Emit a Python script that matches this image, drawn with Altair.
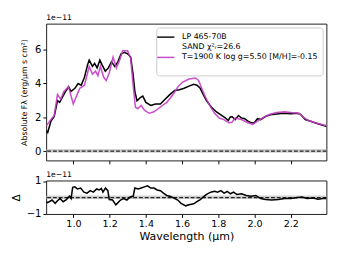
import altair as alt
import pandas as pd

# ---- data (flux in units of 1e-11) ----
lam_obs = [0.850, 0.858, 0.876, 0.894, 0.912, 0.924, 0.938, 0.952, 0.973, 0.987,
           1.008, 1.026, 1.043, 1.061, 1.078, 1.087, 1.105, 1.117, 1.131, 1.146,
           1.158, 1.176, 1.193, 1.210, 1.228, 1.246, 1.263, 1.281, 1.299, 1.316,
           1.329, 1.339, 1.351, 1.369, 1.383, 1.400, 1.427, 1.453, 1.480, 1.506,
           1.532, 1.559, 1.585, 1.611, 1.638, 1.664, 1.682, 1.700, 1.717, 1.735,
           1.761, 1.788, 1.814, 1.840, 1.855, 1.865, 1.875, 1.893, 1.911, 1.928,
           1.946, 1.963, 1.981, 1.999, 2.016, 2.034, 2.060, 2.086, 2.122, 2.157,
           2.200, 2.236, 2.254, 2.280, 2.306, 2.333, 2.359, 2.386, 2.397]
flux_obs = [1.22, 1.10, 1.77, 2.04, 2.97, 2.87, 3.15, 3.43, 3.79, 3.52,
            3.70, 3.98, 3.88, 4.35, 5.08, 5.36, 4.99, 5.17, 4.90, 5.36,
            5.08, 4.71, 4.90, 5.27, 4.99, 5.27, 5.73, 5.82, 5.73, 5.54,
            4.53, 3.52, 2.97, 3.15, 3.24, 2.87, 2.69, 2.78, 2.78, 3.06,
            3.33, 3.57, 3.61, 3.70, 3.83, 3.94, 3.88, 3.70, 3.33, 2.97,
            2.60, 2.32, 2.14, 1.95, 1.80, 2.00, 2.04, 1.86, 2.10, 1.95,
            1.91, 1.77, 1.67, 1.67, 1.91, 1.86, 2.04, 2.14, 2.19, 2.23,
            2.21, 2.23, 2.17, 1.86, 1.77, 1.67, 1.58, 1.49, 1.45]

lam_mod = [0.850, 0.876, 0.894, 0.912, 0.930, 0.947, 0.973, 0.999, 1.017, 1.035,
           1.061, 1.087, 1.105, 1.122, 1.135, 1.149, 1.167, 1.181, 1.198, 1.219,
           1.237, 1.255, 1.272, 1.299, 1.316, 1.329, 1.342, 1.355, 1.374, 1.392,
           1.418, 1.445, 1.480, 1.515, 1.550, 1.577, 1.603, 1.638, 1.673, 1.691,
           1.708, 1.726, 1.752, 1.779, 1.805, 1.831, 1.858, 1.875, 1.893, 1.928,
           1.963, 1.990, 2.016, 2.050, 2.086, 2.122, 2.166, 2.210, 2.245, 2.271,
           2.297, 2.333, 2.368, 2.397]
flux_mod = [1.49, 1.86, 2.10, 3.33, 3.06, 3.52, 3.79, 2.78, 3.24, 3.70,
            3.88, 4.99, 4.53, 4.71, 4.44, 4.99, 4.35, 4.16, 4.62, 5.54,
            4.90, 5.36, 5.91, 5.91, 5.45, 3.98, 2.60, 2.50, 2.69, 2.41,
            2.23, 2.32, 2.60, 2.87, 3.33, 3.79, 4.07, 4.25, 4.31, 4.16,
            3.70, 3.24, 2.69, 2.23, 1.95, 1.86, 1.67, 1.70, 1.95, 1.86,
            1.67, 1.58, 1.77, 1.99, 2.17, 2.28, 2.32, 2.26, 2.23, 1.99,
            1.80, 1.67, 1.58, 1.50]

lam_res = [0.850, 0.858, 0.882, 0.899, 0.912, 0.926, 0.943, 0.961, 0.978, 0.987,
           0.996, 1.008, 1.022, 1.040, 1.058, 1.075, 1.093, 1.110, 1.128, 1.142,
           1.154, 1.163, 1.177, 1.190, 1.198, 1.216, 1.234, 1.242, 1.260, 1.277,
           1.295, 1.313, 1.330, 1.339, 1.357, 1.374, 1.392, 1.409, 1.427, 1.445,
           1.462, 1.480, 1.497, 1.515, 1.532, 1.550, 1.576, 1.594, 1.620, 1.638,
           1.664, 1.682, 1.700, 1.717, 1.735, 1.758, 1.779, 1.796, 1.814, 1.832,
           1.849, 1.867, 1.884, 1.902, 1.928, 1.955, 1.981, 2.007, 2.034, 2.060,
           2.095, 2.131, 2.166, 2.201, 2.236, 2.262, 2.289, 2.324, 2.350, 2.377,
           2.397]
res = [-0.25, -0.31, -0.15, -0.35, -0.19, -0.06, -0.25, -0.12, 0.08, -0.06,
       0.62, 0.65, 0.52, 0.58, 0.33, 0.27, 0.42, 0.33, 0.52, 0.46,
       0.56, 0.33, 0.58, 0.42, -0.12, -0.15, -0.44, -0.35, -0.15, -0.06,
       -0.15, 0.04, 0.08, 0.58, 0.52, 0.58, 0.65, 0.71, 0.58, 0.58,
       0.46, 0.42, 0.27, 0.13, 0.08, 0.00, -0.15, -0.35, -0.50, -0.44,
       -0.38, -0.25, -0.12, 0.04, 0.19, 0.33, 0.38, 0.33, 0.42, 0.27,
       0.37, 0.23, 0.33, 0.19, 0.23, 0.13, 0.08, 0.13, -0.06, -0.12,
       -0.15, -0.12, -0.06, -0.06, 0.00, 0.04, -0.06, -0.02, -0.10, -0.06,
       -0.06]

unc_lam = [0.85, 1.00, 1.20, 1.40, 1.60, 1.80, 2.00, 2.20, 2.397]
unc_val = [0.02, 0.02, 0.02, 0.02, 0.02, 0.02, 0.02, 0.02, 0.02]

labels = ["LP 465-70B", "SAND χ²ᵣ=26.6", "T=1900 K log g=5.50 [M/H]=-0.15", " "]
colors = ["black", "rgba(0,0,0,0)", "#c43cc4", "rgba(0,0,0,0)"]
offset_text = ["1e−11"]

x_ticks = [1.0, 1.2, 1.4, 1.6, 1.8, 2.0, 2.2]
y_ticks_top = [0, 2, 4, 6]
y_ticks_bot = [-1, 0, 1]

# ---- tables ----
obs_df = pd.DataFrame({"lam": lam_obs, "flux": flux_obs, "series": labels[0]})
mod_df = pd.DataFrame({"lam": lam_mod, "flux": flux_mod, "series": labels[2]})
res_df = pd.DataFrame({"lam": lam_res, "res": res})
unc_df = pd.DataFrame({"lam": unc_lam, "unc": unc_val})
zero_df = pd.DataFrame({"y": [0]})
off_df = pd.DataFrame({"t": offset_text})

W = 293
xscale = alt.Scale(domain=[0.85, 2.397], nice=False, zero=False)

color_enc = alt.Color(
    "series:N",
    scale=alt.Scale(domain=labels, range=colors),
    legend=alt.Legend(
        title=None, orient="top-right", offset=4,
        symbolType="M-2.4,0H2.4", symbolSize=56, symbolStrokeWidth=1.6,
        labelFontSize=8.2, labelOffset=12, rowPadding=1.6,
        padding=5, strokeColor="#cccccc", fillColor="white",
        cornerRadius=3, labelLimit=170,
    ),
)

x_top = alt.X("lam:Q", scale=xscale,
              axis=alt.Axis(values=x_ticks, labels=False, title=None, grid=False,
                            ticks=True, tickSize=3.5, domain=False))

unc_top = alt.Chart(unc_df).mark_line(color="#b0b0b0", strokeWidth=4, opacity=0.6).encode(
    x=x_top, y=alt.Y("unc:Q"))
zero_top = alt.Chart(zero_df).mark_rule(color="#222222", strokeDash=[4, 2], strokeWidth=1.3).encode(
    y="y:Q")
obs_line = alt.Chart(obs_df).mark_line(strokeWidth=1.6, clip=True).encode(
    x=x_top,
    y=alt.Y("flux:Q", scale=alt.Scale(domain=[-0.55, 7.5], nice=False),
            axis=alt.Axis(values=y_ticks_top, grid=False, tickSize=3.5,
                          title="Absolute Fλ (erg/µm s cm²)", titleFontSize=8.2,
                          titlePadding=6, labelFontSize=10.5, domain=False)),
    color=color_enc,
)
mod_line = alt.Chart(mod_df).mark_line(strokeWidth=1.6, opacity=0.9, clip=True).encode(
    x=x_top, y=alt.Y("flux:Q"), color=color_enc)
off_top = alt.Chart(off_df).mark_text(align="left", baseline="bottom", fontSize=8,
                                      color="black").encode(
    x=alt.value(0), y=alt.value(-2), text="t:N")

top = alt.layer(obs_line, unc_top, zero_top, mod_line, off_top).properties(
    width=W, height=143)

x_bot = alt.X("lam:Q", scale=xscale,
              axis=alt.Axis(values=x_ticks, format=".1f", grid=False, tickSize=3.5,
                            title="Wavelength (µm)", titleFontSize=11.5, titlePadding=2,
                            labelFontSize=10, domain=False))
unc_bot = alt.Chart(unc_df).mark_line(color="#b0b0b0", strokeWidth=3.5, opacity=0.6).encode(
    x=x_bot, y=alt.Y("unc:Q"))
zero_bot = alt.Chart(zero_df).mark_rule(color="#222222", strokeDash=[4, 2], strokeWidth=1.3).encode(
    y="y:Q")
res_line = alt.Chart(res_df).mark_line(color="black", strokeWidth=1.6, clip=True).encode(
    x=x_bot,
    y=alt.Y("res:Q", scale=alt.Scale(domain=[-1, 1.03], nice=False),
            axis=alt.Axis(values=y_ticks_bot, grid=False, tickSize=3.5, title="Δ",
                          titlePadding=5, titleFontSize=11, labelFontSize=10.5,
                          domain=False)),
)
off_bot = alt.Chart(off_df).mark_text(align="left", baseline="bottom", fontSize=8,
                                      color="black").encode(
    x=alt.value(0), y=alt.value(-2), text="t:N")
bottom = alt.layer(unc_bot, zero_bot, res_line, off_bot).properties(
    width=W, height=35)

chart = alt.vconcat(top, bottom, spacing=5).properties(
    padding={"left": 2, "top": 0, "right": 2, "bottom": 0}
).configure(font="DejaVu Sans").configure_view(
    stroke="black", strokeWidth=0.9
).configure_axis(
    labelFont="DejaVu Sans", titleFont="DejaVu Sans", titleFontWeight="normal",
    labelColor="black", titleColor="black", tickColor="black", labelPadding=2,
).configure_legend(labelFont="DejaVu Sans")

chart.save("out.html", embed_options={"renderer": "svg", "actions": False})
